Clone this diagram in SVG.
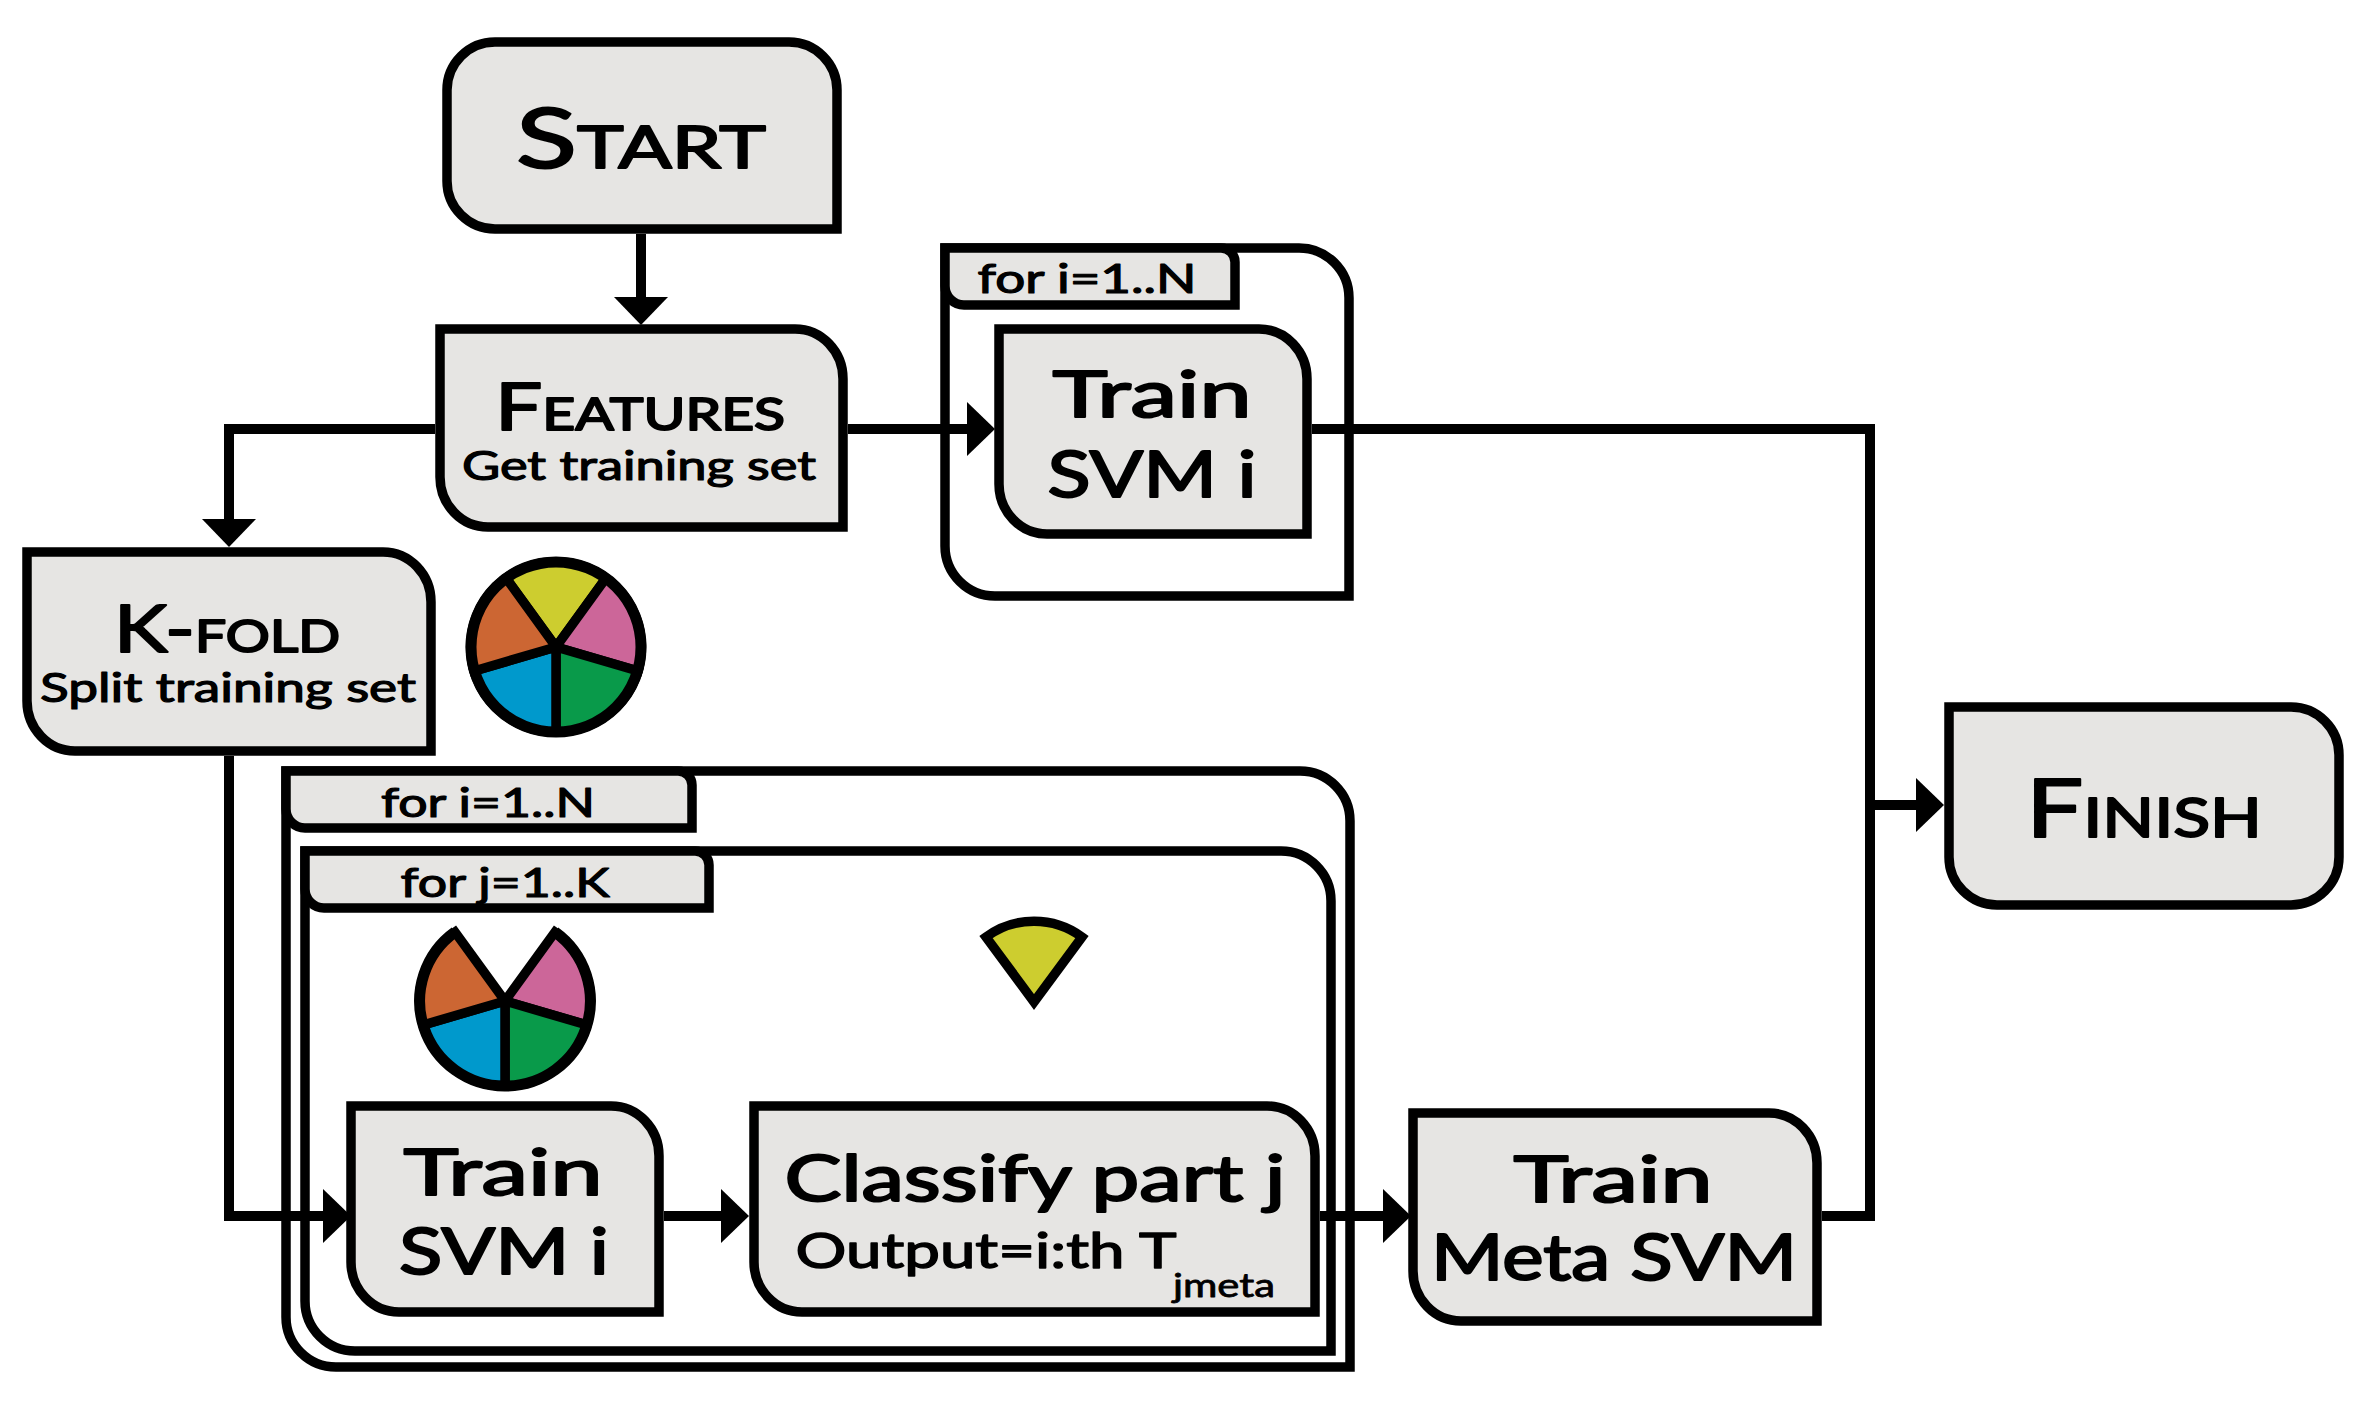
<svg xmlns="http://www.w3.org/2000/svg" width="2373" height="1418" viewBox="0 0 2373 1418">
<style>
.n{fill:#e6e5e3;stroke:#000;stroke-width:9.5;stroke-linejoin:miter}
.fr{fill:none;stroke:#000;stroke-width:9.5}
.c{fill:none;stroke:#000;stroke-width:10;stroke-linejoin:miter;marker-end:url(#h)}
.p{fill:none;stroke:#000;stroke-width:10}
.w{stroke:#000;stroke-width:9.5;stroke-linejoin:miter}
.rim{fill:none;stroke:#000;stroke-width:11}
text{font-family:"Lato","Noto Sans",sans-serif;fill:#000;stroke:#000;stroke-width:2;stroke-linejoin:round}
.big{font-size:63px}
.sub{font-size:40px;stroke-width:1.2}
.out{font-size:48px;stroke-width:1.4}
.tab{font-size:41px;stroke-width:1.2}
.y{fill:#cdcd2f}.k{fill:#cc6699}.o{fill:#cc6633}.b{fill:#0099cc}.g{fill:#099a4a}
</style>
<defs>
<marker id="h" markerUnits="userSpaceOnUse" markerWidth="28" markerHeight="54" viewBox="0 0 28 54" refX="4" refY="27" orient="auto"><path d="M0 0L28 27L0 54Z" fill="#000"/></marker>
</defs>
<g id="frames">
<g id="frame-top">
<path class="fr" d="M945 248H1299A50 50 0 0 1 1349 298V596H995A50 50 0 0 1 945 546Z"/>
<path class="n" d="M945 248H1221A14 14 0 0 1 1235 262V305H964A19 19 0 0 1 945 286Z"/>
<text x="1087" y="293" class="tab" text-anchor="middle" textLength="219" lengthAdjust="spacingAndGlyphs">for i=1..N</text>
</g>
<g id="frame-outer">
<path class="fr" d="M286 771H1300A50 50 0 0 1 1350 821V1367H336A50 50 0 0 1 286 1317Z"/>
<path class="n" d="M286 771H678A14 14 0 0 1 692 785V828H305A19 19 0 0 1 286 809Z"/>
<text x="488" y="817" class="tab" text-anchor="middle" textLength="214" lengthAdjust="spacingAndGlyphs">for i=1..N</text>
</g>
<g id="frame-inner">
<path class="fr" d="M305 851H1281A50 50 0 0 1 1331 901V1351H355A50 50 0 0 1 305 1301Z"/>
<path class="n" d="M305 851H695A14 14 0 0 1 709 865V908H324A19 19 0 0 1 305 889Z"/>
<text x="505" y="897" class="tab" text-anchor="middle" textLength="209" lengthAdjust="spacingAndGlyphs">for j=1..K</text>
</g>
</g>
<g id="connectors">
<path class="c" d="M641 234V301"/>
<path class="c" d="M435 429H229V523"/>
<path class="c" d="M848 429H971"/>
<path class="c" d="M229 756V1216H327"/>
<path class="c" d="M664 1216H725"/>
<path class="c" d="M1320 1216H1387"/>
<path class="p" d="M1312 429H1870V1216H1822"/>
<path class="c" d="M1870 805H1920"/>
</g>
<g id="start">
<path class="n" d="M495 42H789A48 48 0 0 1 837 90V229H495A48 48 0 0 1 447 181V90A48 48 0 0 1 495 42Z"/>
<text x="641" y="168" text-anchor="middle" textLength="250" lengthAdjust="spacingAndGlyphs"><tspan style="font-size:84px">S</tspan><tspan style="font-size:59px">TART</tspan></text>
</g>
<g id="features">
<path class="n" d="M440 329H795A48 50 0 0 1 843 379V527H488A48 50 0 0 1 440 477Z"/>
<text x="640" y="430" text-anchor="middle" textLength="290" lengthAdjust="spacingAndGlyphs"><tspan style="font-size:66px">F</tspan><tspan style="font-size:45px">EATURES</tspan></text>
<text x="639" y="480" class="sub" text-anchor="middle" textLength="354" lengthAdjust="spacingAndGlyphs">Get training set</text>
</g>
<g id="kfold">
<path class="n" d="M27 552H383A48 50 0 0 1 431 602V751H75A48 50 0 0 1 27 701Z"/>
<text x="227" y="652" text-anchor="middle" textLength="226" lengthAdjust="spacingAndGlyphs"><tspan style="font-size:66px">K-</tspan><tspan style="font-size:45px">FOLD</tspan></text>
<text x="228" y="702" class="sub" text-anchor="middle" textLength="376" lengthAdjust="spacingAndGlyphs">Split training set</text>
</g>
<g id="pie-full">
<path class="w y" d="M556 647L506 578A85 85 0 0 1 606 578Z"/>
<path class="w k" d="M556 647L606 578A85 85 0 0 1 638 671Z"/>
<path class="w g" d="M556 647L638 671A85 85 0 0 1 556 732Z"/>
<path class="w b" d="M556 647L556 732A85 85 0 0 1 474 671Z"/>
<path class="w o" d="M556 647L474 671A85 85 0 0 1 506 578Z"/>
<circle class="rim" cx="556" cy="647" r="85"/>
</g>
<g id="train-top">
<path class="n" d="M999 329H1259A48 50 0 0 1 1307 379V534H1047A48 50 0 0 1 999 484Z"/>
<text x="1152" y="417" class="big" text-anchor="middle" textLength="199" lengthAdjust="spacingAndGlyphs">Train</text>
<text x="1152" y="497" class="big" text-anchor="middle" textLength="209" lengthAdjust="spacingAndGlyphs">SVM i</text>
</g>
<g id="finish">
<path class="n" d="M1949 707H2291A48 48 0 0 1 2339 755V857A48 48 0 0 1 2291 905H1997A48 48 0 0 1 1949 857Z"/>
<text x="2144" y="837" text-anchor="middle" textLength="236" lengthAdjust="spacingAndGlyphs"><tspan style="font-size:82px">F</tspan><tspan style="font-size:55px">INISH</tspan></text>
</g>
<g id="pie-rest">
<path class="w k" d="M505 1001L555 932A85 85 0 0 1 587 1025Z"/>
<path class="w g" d="M505 1001L587 1025A85 85 0 0 1 505 1086Z"/>
<path class="w b" d="M505 1001L505 1086A85 85 0 0 1 423 1025Z"/>
<path class="w o" d="M505 1001L423 1025A85 85 0 0 1 455 932Z"/>
<path class="rim" d="M555 932A85 85 0 0 1 505 1086A85 85 0 0 1 455 932"/>
</g>
<g id="pie-slice">
<path class="w y" d="M1034 1002L986 937A81 81 0 0 1 1082 937Z"/>
</g>
<g id="train-inner">
<path class="n" d="M351 1106H611A48 50 0 0 1 659 1156V1312H399A48 50 0 0 1 351 1262Z"/>
<text x="503" y="1195" class="big" text-anchor="middle" textLength="199" lengthAdjust="spacingAndGlyphs">Train</text>
<text x="504" y="1274" class="big" text-anchor="middle" textLength="210" lengthAdjust="spacingAndGlyphs">SVM i</text>
</g>
<g id="classify">
<path class="n" d="M754 1106H1267A48 50 0 0 1 1315 1156V1312H802A48 50 0 0 1 754 1262Z"/>
<text x="1035" y="1201" class="big" text-anchor="middle" textLength="501" lengthAdjust="spacingAndGlyphs">Classify part j</text>
<text x="986" y="1268" class="out" text-anchor="middle" textLength="381" lengthAdjust="spacingAndGlyphs">Output=i:th T</text>
<text x="1224" y="1297" style="font-size:33px;stroke-width:.8" text-anchor="middle" textLength="102" lengthAdjust="spacingAndGlyphs">jmeta</text>
</g>
<g id="meta">
<path class="n" d="M1413 1113H1769A48 50 0 0 1 1817 1163V1321H1461A48 50 0 0 1 1413 1271Z"/>
<text x="1613" y="1202" class="big" text-anchor="middle" textLength="199" lengthAdjust="spacingAndGlyphs">Train</text>
<text x="1614" y="1280" class="big" text-anchor="middle" textLength="366" lengthAdjust="spacingAndGlyphs">Meta SVM</text>
</g>
</svg>
